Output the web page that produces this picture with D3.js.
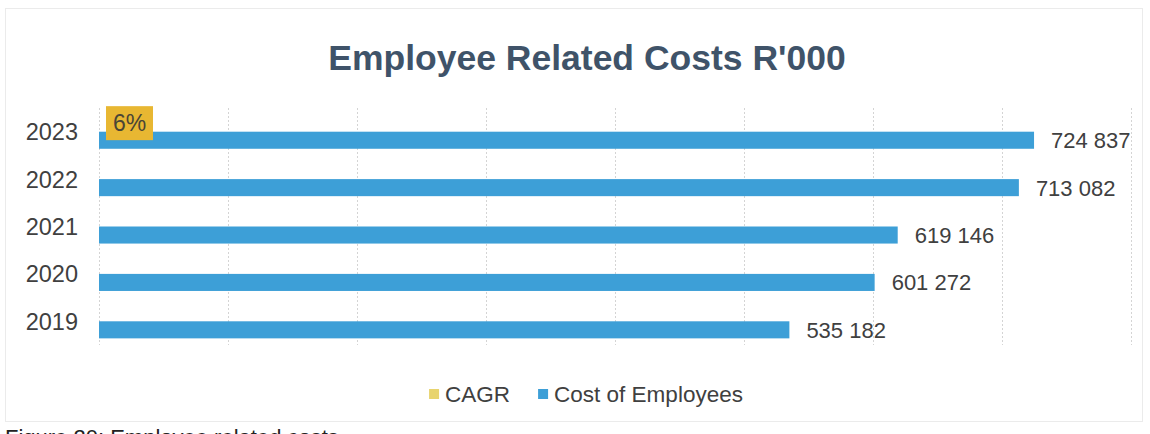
<!DOCTYPE html>
<html>
<head>
<meta charset="utf-8">
<script src="https://cdn.jsdelivr.net/npm/d3@7"></script>
<style>
  html, body { margin: 0; padding: 0; background: #ffffff; }
  svg { display: block; }
  text { font-family: "Liberation Sans", Arial, sans-serif; }
</style>
</head>
<body>
<svg id="chart" width="1150" height="434"></svg>
<script>
// Employee related costs per financial year (R'000)
const years = ["2023", "2022", "2021", "2020", "2019"];
const costOfEmployees = [724837, 713082, 619146, 601272, 535182];
// Compound annual growth rate, shown only against the latest year
const cagr = [0.06, null, null, null, null];
const seriesNames = ["CAGR", "Cost of Employees"];
const xTicks = [0, 100000, 200000, 300000, 400000, 500000, 600000, 700000, 800000];

const colors = {
  cagrLegend: "#e8d46e",
  cagrLabel: "#e8b732",
  cost: "#3d9fd7",
  text: "#404040",
  title: "#3f5369",
  grid: "#d4d4d4",
  frame: "#ebebeb"
};

const width = 1150, height = 434;
const plot = { left: 99, right: 1131, top: 108, bottom: 345 };

const svg = d3.select("#chart");

// Chart frame
svg.append("rect")
  .attr("x", 5.5).attr("y", 8.5)
  .attr("width", 1137).attr("height", 413)
  .attr("fill", "#ffffff")
  .attr("stroke", colors.frame)
  .attr("stroke-width", 1);

// Title
svg.append("text")
  .attr("x", 587).attr("y", 70)
  .attr("text-anchor", "middle")
  .attr("font-size", 35.5)
  .attr("font-weight", "bold")
  .attr("fill", colors.title)
  .text("Employee Related Costs R'000");

// Scales
const x = d3.scaleLinear()
  .domain([0, 800000])
  .range([plot.left, plot.right]);

const y = d3.scaleBand()
  .domain(years)
  .range([plot.top, plot.bottom])
  .paddingInner(0.28)
  .paddingOuter(0.14);

const ySeries = d3.scaleBand()
  .domain(seriesNames)
  .range([0, y.bandwidth()]);

// Vertical gridlines
svg.append("g")
  .attr("class", "grid")
  .selectAll("line")
  .data(xTicks)
  .join("line")
  .attr("x1", d => Math.round(x(d)) + 0.5)
  .attr("x2", d => Math.round(x(d)) + 0.5)
  .attr("y1", plot.top)
  .attr("y2", plot.bottom)
  .attr("stroke", colors.grid)
  .attr("stroke-width", 1)
  .attr("stroke-dasharray", "2,2");

// Category axis (year labels)
const yAxis = d3.axisLeft(y).tickSize(0).tickPadding(0);
const yAxisG = svg.append("g")
  .attr("transform", `translate(${plot.left - 21},0)`)
  .call(yAxis);
yAxisG.select(".domain").remove();
yAxisG.selectAll("text")
  .attr("font-size", 23.5)
  .attr("font-family", "'Liberation Sans', Arial, sans-serif")
  .attr("fill", colors.text)
  .attr("dy", "0.36em");

// Cost of employees bars
const costData = years.map((yr, i) => ({ year: yr, value: costOfEmployees[i] }));
svg.append("g")
  .selectAll("rect")
  .data(costData)
  .join("rect")
  .attr("x", x(0))
  .attr("y", d => y(d.year) + ySeries("Cost of Employees"))
  .attr("width", d => x(d.value) - x(0))
  .attr("height", ySeries.bandwidth())
  .attr("fill", colors.cost);

// Value labels for cost bars
const fmt = v => d3.format(",")(v).replace(/,/g, " ");
svg.append("g")
  .selectAll("text")
  .data(costData)
  .join("text")
  .attr("x", d => x(d.value) + 17)
  .attr("y", d => y(d.year) + ySeries("Cost of Employees") + ySeries.bandwidth() / 2)
  .attr("dy", "0.36em")
  .attr("font-size", 22)
  .attr("fill", colors.text)
  .text(d => fmt(d.value));

// CAGR series: tiny bar plus its highlighted data label
const cagrData = years.map((yr, i) => ({ year: yr, value: cagr[i] })).filter(d => d.value != null);
const cagrG = svg.append("g")
  .selectAll("g")
  .data(cagrData)
  .join("g")
  .attr("transform", d => `translate(${x(d.value)},${y(d.year) + ySeries("CAGR") + ySeries.bandwidth() / 2})`);

cagrG.append("rect")
  .attr("x", 7).attr("y", -17)
  .attr("width", 47).attr("height", 34)
  .attr("fill", colors.cagrLabel);

cagrG.append("text")
  .attr("x", 30.5).attr("y", 0)
  .attr("dy", "0.36em")
  .attr("text-anchor", "middle")
  .attr("font-size", 23)
  .attr("fill", "#4a4536")
  .text(d => d3.format(".0%")(d.value));

// Legend
const legendItems = [
  { name: "CAGR", color: colors.cagrLegend },
  { name: "Cost of Employees", color: colors.cost }
];
const legend = svg.append("g").attr("transform", "translate(0,394)");
const items = legend.selectAll("g")
  .data(legendItems)
  .join("g");
items.append("rect")
  .attr("y", -5).attr("width", 10).attr("height", 10)
  .attr("fill", d => d.color);
items.append("text")
  .attr("x", 16)
  .attr("dy", "0.36em")
  .attr("font-size", 22.5)
  .attr("fill", colors.text)
  .text(d => d.name);

// Lay out legend entries side by side and centre the row
let cursor = 0;
const gap = 28;
items.each(function () {
  const w = 16 + this.querySelector("text").getComputedTextLength();
  d3.select(this).attr("transform", `translate(${cursor},0)`);
  cursor += w + gap;
});
const legendWidth = cursor - gap;
legend.attr("transform", `translate(${586 - legendWidth / 2},394)`);

// Figure caption below the chart, running on past the bottom edge
svg.append("text")
  .attr("x", 5).attr("y", 445)
  .attr("font-size", 22)
  .attr("fill", "#222222")
  .text("Figure 20: Employee related costs");
</script>
</body>
</html>
